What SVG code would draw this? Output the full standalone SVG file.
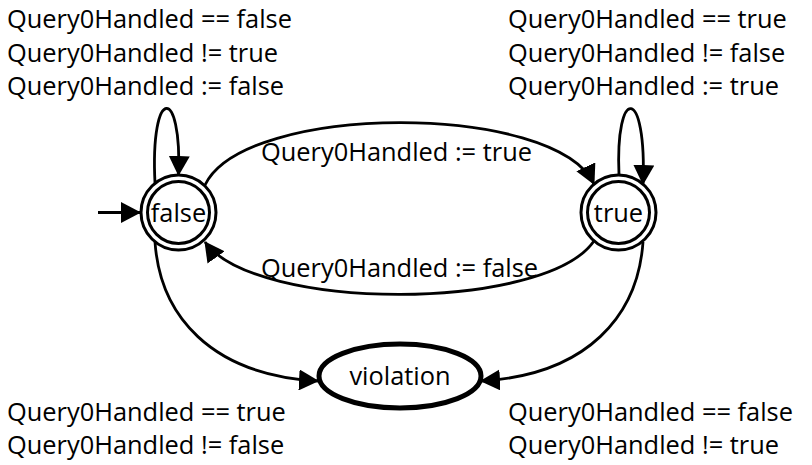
<svg xmlns="http://www.w3.org/2000/svg" width="812" height="465" viewBox="0 0 812 465">
  <style>
    text { font-family: "Open Sans", "Noto Sans", "Liberation Sans", sans-serif; font-size: 25.4px; fill: #000; }
    .mid { text-anchor: middle; }
    .ring { fill: #fff; stroke: #000; stroke-width: 3; }
    .edge { fill: none; stroke: #000; stroke-width: 2.8; marker-end: url(#arrow); }
  </style>
  <defs>
    <marker id="arrow" markerUnits="userSpaceOnUse" markerWidth="20" markerHeight="21" refX="19" refY="10.5" orient="auto">
      <path d="M0,0 L20,10.5 L0,21 z" fill="#000"/>
    </marker>
  </defs>

  <g id="connectors">
    <path id="init" class="edge" d="M98 212.5 L140 212.5"/>
    <path id="loop-false" class="edge" d="M155 183 C150 85, 182 85, 178.5 175"/>
    <path id="loop-true" class="edge" d="M619 175 C615 85, 647 85, 643 184"/>
    <path id="false-true" class="edge" d="M205 185 C245 102, 555 102, 594 184"/>
    <path id="true-false" class="edge" d="M594 241 C545 312, 255 312, 205 242"/>
    <path id="false-violation" class="edge" d="M155 242 C160 315, 210 375, 318 381"/>
    <path id="true-violation" class="edge" d="M643 242 C638 315, 588 375, 481 381"/>
  </g>

  <g id="node-false">
    <circle class="ring" cx="178.5" cy="212.5" r="37.5"/>
    <circle class="ring" cx="178.5" cy="212.5" r="31"/>
    <text class="mid" x="178.5" y="222">false</text>
  </g>

  <g id="node-true">
    <circle class="ring" cx="618.5" cy="212.5" r="37.5"/>
    <circle class="ring" cx="618.5" cy="212.5" r="31"/>
    <text class="mid" x="618.5" y="222">true</text>
  </g>

  <g id="node-violation">
    <ellipse cx="400" cy="376" rx="81" ry="32" fill="#fff" stroke="#000" stroke-width="5"/>
    <text class="mid" x="400" y="385">violation</text>
  </g>

  <g id="labels">
    <text x="7" y="28">Query0Handled == false</text>
    <text x="7" y="62">Query0Handled != true</text>
    <text x="7" y="95">Query0Handled := false</text>

    <text x="508" y="28">Query0Handled == true</text>
    <text x="508" y="62">Query0Handled != false</text>
    <text x="508" y="95">Query0Handled := true</text>

    <text x="261" y="161">Query0Handled := true</text>
    <text x="261" y="277">Query0Handled := false</text>

    <text x="7" y="421">Query0Handled == true</text>
    <text x="7" y="454">Query0Handled != false</text>

    <text x="508" y="421">Query0Handled == false</text>
    <text x="508" y="454">Query0Handled != true</text>
  </g>
</svg>
